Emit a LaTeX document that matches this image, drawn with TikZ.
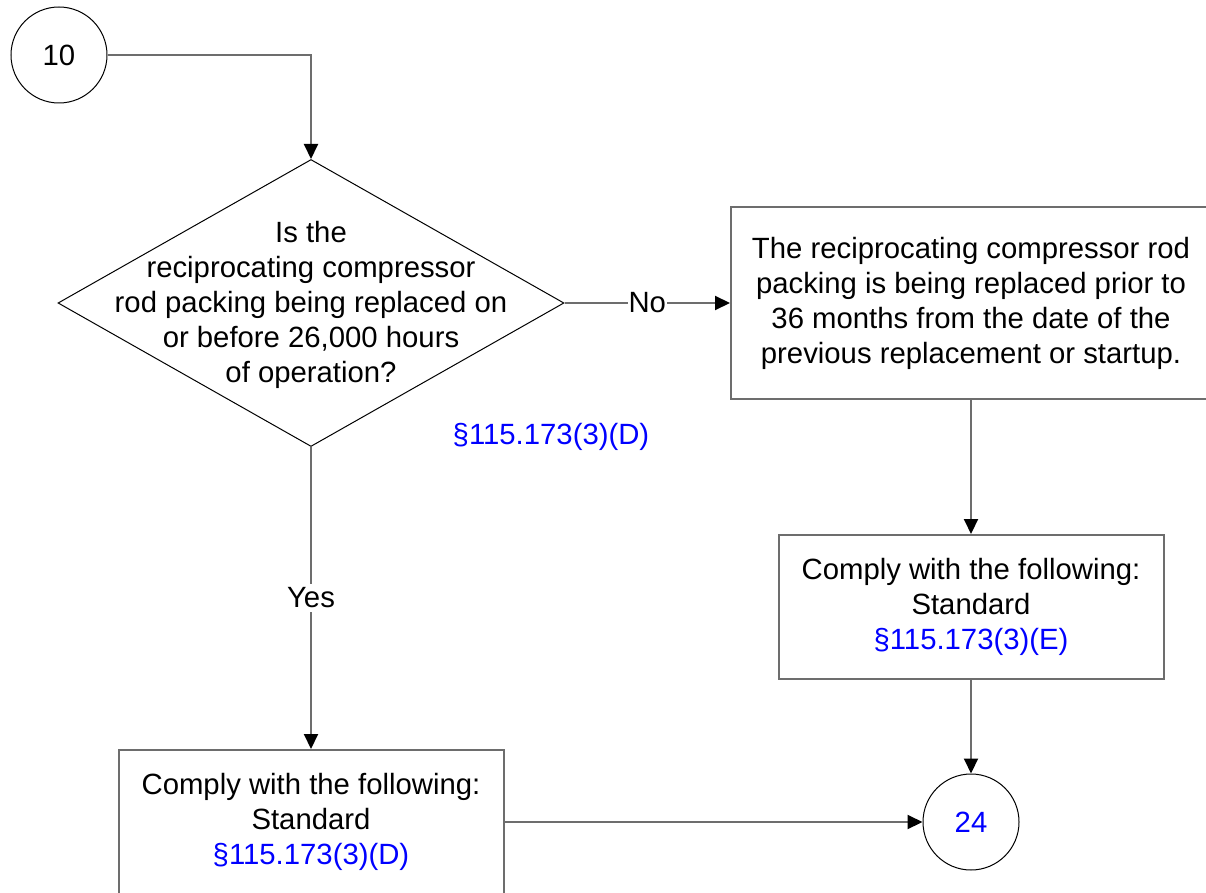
\documentclass[tikz,border=0pt]{standalone}
\usepackage{fontspec}
\setmainfont{Liberation Sans}
\usetikzlibrary{shapes.geometric,arrows.meta}
\definecolor{linegray}{HTML}{6D6D6D}
\definecolor{refblue}{HTML}{0000FF}

\begin{document}
\begin{tikzpicture}[x=1pt, y=1pt,
    base/.style = {rectangle, draw=linegray, line width=2pt,
minimum width=385pt, minimum height=144pt,
text centered},
process/.style = {base, minimum width=480pt, minimum height=192pt},
decision/.style = {diamond, draw=black, line width=1pt, inner sep=0pt,
minimum width=506pt, minimum height=287pt},
connector/.style = {circle, draw=black, line width=1pt, inner sep=0pt,
minimum size=96pt},
node distance=250pt,
>={Triangle[width=14pt,length=15pt,color=black]},
every node/.style={font=\fontsize{29.3}{35}\selectfont}, align=center
]
  \useasboundingbox (0,0) rectangle (1206,-893);

  \node (start) [connector] at (59,-55) {10};
  \node (question) [decision, below of=start, xshift=252pt, yshift=2pt] {};
  \node (questiontext) [yshift=-2pt] at (question) {Is the\\reciprocating compressor\\rod packing being replaced on\\or before 26,000 hours\\of operation?};
  \node (replace36) [process, right of=question, xshift=410pt] {The reciprocating compressor rod\\packing is being replaced prior to\\36 months from the date of the\\previous replacement or startup.};
  \node (comply2) [base, below of=replace36, yshift=-54pt] {Comply with the following:\\Standard\\\textcolor{refblue}{§115.173(3)(E)}};
  \node (end24) [connector, below of=comply2, yshift=35pt] {\textcolor{refblue}{24}};
  \node (comply1) [base, below of=question, yshift=-269pt] {Comply with the following:\\Standard\\\textcolor{refblue}{§115.173(3)(D)}};
  \node (refD) [text=refblue] at (551,-437) {§115.173(3)(D)};

  \draw[->, draw=linegray, line width=2pt] (start) -| (question);
  \draw[->, draw=linegray, line width=2pt] (question) -- (replace36) node[midway, fill=white, inner sep=1pt] {No};
  \draw[->, draw=linegray, line width=2pt] (question) -- (comply1) node[midway, fill=white] {Yes};
  \draw[->, draw=linegray, line width=2pt] (replace36) -- (comply2);
  \draw[->, draw=linegray, line width=2pt] (comply2) -- (end24);
  \draw[->, draw=linegray, line width=2pt] (comply1) -- (end24);

\end{tikzpicture}
\end{document}
